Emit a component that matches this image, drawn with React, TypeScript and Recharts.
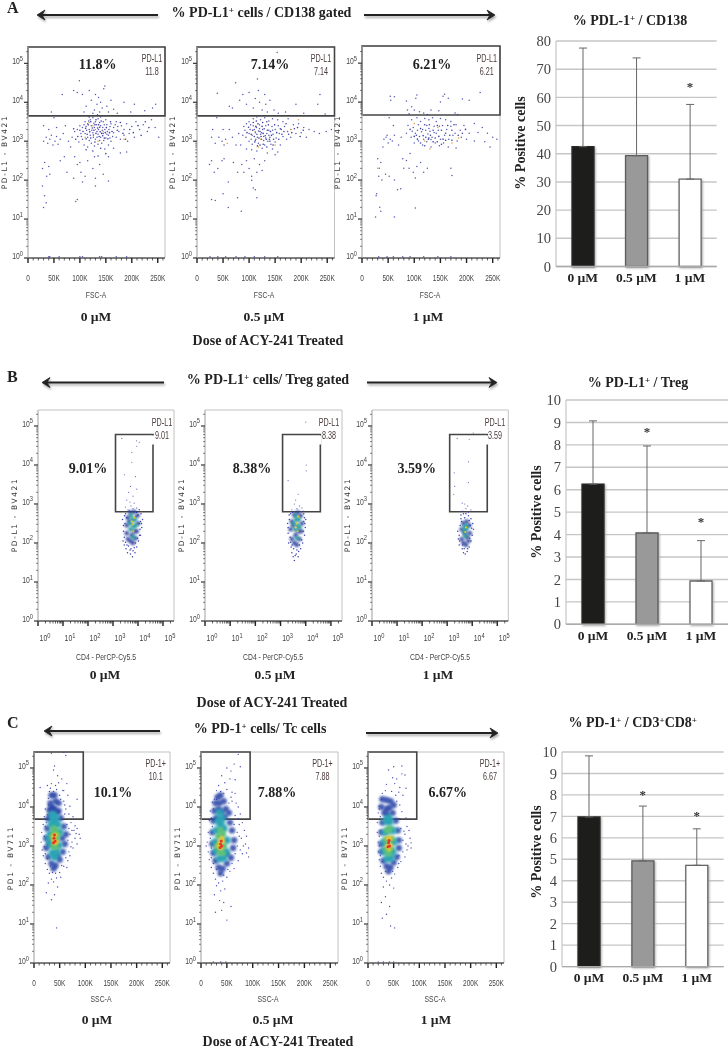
import React from "react";
import {
  ScatterChart, Scatter, XAxis, YAxis, ReferenceArea, BarChart, Bar, Cell, ErrorBar,
  CartesianGrid, ReferenceDot,
} from "recharts";

type P = [number, number];

// ---------- Panel A: FSC-A (K) vs log10 PD-L1 ----------
const a1Blue: P[] = [[45,3.75],[66,4.2],[88,4.3],[95,4.25],[99,4.55],[105,4.2],[112,3.9],[118,4.3],[122,4.05],[128,3.8],[130,4.2],[133,3.95],[136,4.12],[138,3.75],[140,4.0],[143,3.85],[146,4.35],[148,4.42],[152,3.9],[155,3.75],[160,4.05],[165,3.82],[172,3.72],[185,4.0],[198,3.75],[205,3.95],[225,3.78],[240,3.85],[246,3.95],[108,3.75],[125,3.72],[134,3.68],
[120,3.55],[125,3.6],[130,3.5],[135,3.58],[140,3.62],[145,3.5],[150,3.55],[115,3.45],[110,3.5],[105,3.35],[100,3.4],[95,3.3],[90,3.25],[85,3.1],[118,3.3],[122,3.4],[128,3.35],[132,3.42],[136,3.3],[140,3.4],[144,3.35],[148,3.3],[152,3.42],[156,3.3],[160,3.45],[165,3.35],[170,3.5],[175,3.25],[180,3.4],[185,3.3],[190,3.45],[195,3.2],[200,3.38],[208,3.5],[215,3.3],[222,3.42],[230,3.25],[238,3.55],[245,3.35],[252,3.1],[110,3.2],[115,3.1],[120,3.15],[125,3.22],[130,3.05],[135,3.18],[140,3.1],[145,3.2],[150,3.08],[155,3.15],[160,3.0],[165,3.22],[170,3.1],[178,3.05],[185,3.15],[192,3.0],[205,3.1],[105,3.05],[98,2.98],[102,3.2],[108,2.9],[115,2.85],[122,2.95],[128,2.88],[135,2.92],[142,2.95],[148,2.8],[155,2.9],[165,2.82],[178,2.7],[190,2.72],
[112,3.38],[117,3.52],[123,3.28],[127,3.46],[133,3.25],[138,3.48],[143,3.28],[147,3.42],[153,3.25],[158,3.38],[163,3.12],[168,3.42],[173,3.38],[113,3.28],[108,3.42],[103,3.12],[118,3.02],[126,3.1],[133,3.1],[138,3.02],[146,3.02],[152,3.18],[158,3.08],
[30,3.0],[35,3.1],[38,2.95],[42,3.05],[45,3.15],[48,2.9],[52,3.0],[55,3.12],[58,2.92],[62,3.05],[40,3.3],[55,3.35],[68,3.2],[72,3.4],[78,3.0],[82,2.85],[30,3.4],[50,3.6],
[28,2.3],[32,2.45],[40,2.35],[28,1.85],[32,1.6],[35,1.42],[30,1.3],[36,2.1],[42,2.15],[90,2.6],[95,2.4],[100,2.45],[102,2.2],[88,2.05],[105,1.95],[92,1.45],[95,1.5],[110,2.1],[115,2.5],[125,2.3],[130,2.05],[130,1.85],[138,2.4],[145,2.15],[155,1.98],[155,2.6],[128,2.6],[75,2.2],[62,2.5],[70,2.6],
[40,0.03],[42,0.03],[60,0.03],[100,0.03],[105,0.03],[138,0.03],[142,0.03],[170,0.03],[190,0.03]];
const a1Dense: P[] = [[106,3.25],[111,3.33],[114,3.18],[116,3.42],[119,3.24],[121,3.5],[124,3.34],[126,3.16],[129,3.42],[131,3.2],[134,3.34],[137,3.12],[139,3.24],[141,3.52],[144,3.14],[147,3.08],[149,3.22],[151,3.35],[154,3.06],[157,3.22],[159,3.5],[162,3.25],[118,3.62],[127,3.28],[131,3.55],[136,3.42],[142,3.2],[112,3.06],[121,3.08],[129,2.98],[138,3.36],[100,3.28],[96,3.12],[92,3.05],[88,3.32],[172,3.28],[178,3.48],[183,3.2],[188,3.05],[196,3.3],[203,3.22],[212,3.4],[218,3.15],[226,3.5],[233,3.35],[140,2.82],[125,2.75],[112,2.78],[150,2.68],[135,2.62]];
const a1Warm: P[] = [[110,3.1],[125,3.4],[135,3.0],[145,3.25],[185,3.05],[130,3.3],[118,3.48]];

const a2Blue: P[] = [[39,4.23],[62,3.9],[74,4.5],[68,3.85],[82,4.05],[88,4.2],[95,3.95],[100,4.25],[108,3.85],[112,4.1],[116,4.6],[118,4.3],[120,4.0],[125,3.8],[130,4.2],[132,3.95],[135,3.75],[140,4.05],[148,3.8],[154,5.28],[156,3.72],[170,3.75],[190,3.95],[205,3.72],[232,3.95],[236,4.2],[246,3.7],
[100,3.5],[108,3.58],[115,3.62],[122,3.55],[130,3.6],[138,3.52],[145,3.58],[155,3.55],[165,3.5],[175,3.58],[185,3.42],[195,3.45],[205,3.35],[215,3.3],[225,3.25],[235,3.2],[248,3.25],[258,3.3],[90,3.38],[95,3.45],[102,3.3],[108,3.4],[114,3.35],[120,3.42],[126,3.3],[132,3.4],[138,3.28],[144,3.38],[150,3.3],[156,3.4],[162,3.3],[168,3.38],[174,3.25],[180,3.3],[190,3.2],[200,3.22],[88,3.15],[94,3.1],[100,3.2],[106,3.15],[112,3.22],[116,3.1],[122,3.18],[128,3.12],[134,3.2],[140,3.1],[146,3.18],[152,3.08],[158,3.2],[165,3.12],[172,3.05],[180,3.1],[210,3.1],[100,3.0],[106,2.92],[112,3.02],[118,2.95],[124,3.05],[130,2.9],[136,3.0],[142,2.92],[150,2.98],[160,2.9],[84,2.9],[95,2.8],[105,2.78],[115,2.75],[125,2.82],[135,2.7],[145,2.8],[155,2.72],[92,3.28],[104,3.05],[110,3.3],[118,3.26],[124,3.22],[128,3.02],[132,3.08],[138,3.15],[145,3.28],[103,3.42],[113,3.05],[120,3.32],
[28,3.1],[35,2.95],[42,3.1],[48,3.0],[52,2.9],[55,3.05],[30,3.3],[50,3.3],[38,3.6],[62,3.3],[68,3.1],[75,2.9],[80,3.2],
[24,2.4],[28,2.5],[33,2.2],[40,2.3],[48,2.5],[52,2.55],[70,2.45],[78,2.2],[86,2.4],[90,2.2],[95,2.5],[100,2.3],[105,2.1],[110,2.55],[115,2.2],[120,2.4],[125,2.25],[130,2.5],[108,1.8],[112,1.75],[115,1.55],[105,2.0],[60,1.95],[50,1.65],[78,1.55],[60,1.3],[85,1.2],[28,1.5],[35,1.48],[150,2.65],
[25,0.03],[40,0.03],[55,0.03],[75,0.03],[92,0.03],[110,0.03],[130,0.03],[155,0.03]];
const a2Dense: P[] = [[96,3.22],[99,3.36],[104,3.18],[107,3.28],[110,3.12],[113,3.38],[115,3.18],[117,3.45],[119,3.08],[121,3.25],[123,3.12],[125,3.38],[127,3.2],[129,3.32],[131,3.14],[133,3.05],[135,3.28],[137,3.42],[139,3.05],[141,3.25],[143,3.15],[147,3.05],[149,3.42],[153,3.22],[157,3.05],[160,3.32],[163,3.18],[167,3.25],[171,3.45],[176,3.18],[182,3.22],[187,3.32],[193,3.35],[198,3.12],[204,3.28],[111,2.98],[116,2.88],[121,2.9],[127,2.92],[134,2.85],[140,3.0],[146,2.9],[108,3.48],[114,3.52],[126,3.48],[134,3.5]];
const a2Warm: P[] = [[112,3.25],[122,3.05],[58,2.95],[180,3.3],[118,2.85],[150,2.9],[195,3.55]];

const a3Blue: P[] = [[54,4.15],[55,4.05],[62,4.14],[85,4.03],[87,3.8],[90,3.7],[95,3.88],[100,3.8],[105,4.18],[103,4.1],[110,3.75],[118,3.72],[125,3.68],[132,3.8],[147,3.78],[150,4.0],[155,4.15],[158,4.2],[165,4.1],[178,3.72],[183,3.68],[192,4.08],[205,4.05],[226,4.25],
[95,3.55],[105,3.6],[112,3.5],[120,3.58],[128,3.55],[135,3.6],[142,3.5],[150,3.58],[160,3.55],[170,3.5],[180,3.42],[195,3.4],[215,3.45],[230,3.35],[240,3.2],[88,3.4],[98,3.35],[108,3.42],[116,3.3],[124,3.4],[130,3.25],[138,3.38],[146,3.28],[154,3.4],[162,3.3],[170,3.38],[178,3.2],[188,3.28],[205,3.2],[222,3.22],[250,3.1],[258,3.05],[85,3.2],[94,3.1],[102,3.2],[110,3.12],[118,3.05],[126,3.18],[134,3.1],[142,3.2],[150,3.05],[158,3.15],[166,3.05],[174,3.15],[182,3.0],[190,3.1],[200,3.05],[215,3.0],[235,2.98],[245,2.85],[100,2.95],[108,3.0],[116,2.9],[124,2.98],[132,2.85],[140,2.95],[148,2.88],[156,2.95],[165,2.85],[180,2.82],[75,3.1],[114,3.24],[122,3.28],[132,3.04],[138,3.22],[128,3.32],[106,3.28],[96,3.25],[148,3.38],
[42,3.05],[46,3.1],[50,2.95],[54,3.05],[58,3.0],[62,3.15],[48,3.15],[40,2.85],[60,3.4],[52,3.6],[70,2.9],
[30,2.55],[33,2.3],[36,2.45],[32,2.1],[28,1.65],[27,1.6],[34,1.3],[36,1.2],[26,1.05],[62,1.05],[102,1.28],[45,2.15],[52,2.1],[38,2.0],[62,2.0],[68,1.75],[74,1.78],[80,2.3],[90,2.3],[98,2.2],[102,2.05],[105,2.35],[112,2.45],[118,2.2],[125,2.3],[170,2.3],[172,2.12],[85,2.5],[92,2.68],[78,2.55],
[32,0.03],[48,0.03],[60,0.03],[78,0.03],[92,0.03],[118,0.03],[145,0.03],[170,0.03]];
const a3Dense: P[] = [[104,3.15],[112,3.32],[117,3.14],[120,3.42],[122,3.1],[127,3.05],[129,3.42],[131,3.15],[136,3.28],[140,3.08],[144,3.4],[147,3.12],[152,3.28],[155,3.05],[160,3.2],[164,3.4],[168,3.15],[172,3.28],[176,3.42],[184,3.15],[192,3.2],[198,3.3],[112,2.95],[120,2.88],[128,3.08],[136,2.98],[144,2.98],[152,2.92],[160,3.02],[172,3.02],[106,3.05],[100,3.12],[92,3.3]];
const a3Warm: P[] = [[100,3.45],[120,3.0],[145,3.35],[185,3.08],[30,2.3],[130,2.8],[172,2.95]];

// ---------- Panel B: log10 CD4 vs log10 PD-L1 ----------
const b1Gate: P[] = [[3.35,4.68],[3.94,4.62],[4.05,4.58],[3.95,4.48],[3.75,4.32],[3.75,4.07],[3.46,3.75],[3.9,3.7],[3.7,3.45],[3.95,3.38],[3.62,3.3],[3.8,3.2],[3.55,3.1],[3.68,3.05],[3.85,3.02],[3.72,2.95],[3.95,2.9],[3.5,2.92],[3.6,2.85],[3.8,2.88]];
const b1Blue: P[] = [[3.38,2.6],[3.42,2.3],[3.4,2.05],[3.45,1.95],[3.5,2.75],[3.52,1.85],[3.58,1.75],[3.65,2.82],[3.7,1.72],[3.78,1.65],[3.88,1.75],[3.95,1.9],[4.02,2.05],[4.1,2.2],[4.15,2.4],[4.18,2.6],[4.12,2.75],[4.05,2.85],[3.48,2.5],[3.45,2.15],[3.55,2.65],[4.08,2.35],[4.1,2.55],[3.95,2.78],[3.62,1.92],[3.72,1.85],[3.85,1.88],[3.9,2.0],[4.05,2.5],[3.42,2.45],[3.46,2.7],[3.5,2.02],[3.56,1.95],[3.92,2.68],[4.0,2.72],[4.06,2.2],[4.14,2.5],[3.98,2.12],[3.68,1.82],[3.8,1.8]];
const b1Core: P[] = [[3.6,2.1],[3.7,2.05],[3.8,2.0],[3.9,2.12],[3.95,2.3],[4.0,2.5],[3.98,2.7],[3.85,2.8],[3.7,2.78],[3.6,2.65],[3.55,2.45],[3.55,2.25],[3.65,2.55],[3.75,2.2],[3.85,2.3]];
const b1Mid: P[] = [[3.7,2.35],[3.82,2.42],[3.78,2.6],[3.88,2.6],[3.68,2.5],[3.8,2.15],[3.72,2.7],[3.9,2.45]];
const b1Hot: P[] = [[3.8,2.48],[3.82,2.3],[3.75,2.55],[3.86,2.65]];

const b2Gate: P[] = [[4.0,5.1],[4.02,4.0],[4.02,3.85],[3.3,3.6],[3.7,3.25],[3.55,3.0],[3.75,2.95],[3.6,3.1],[3.45,2.85],[3.65,2.88],[3.85,2.9],[3.9,2.82]];
const b2Blue: P[] = [[3.28,2.5],[3.3,2.25],[3.32,2.0],[3.4,2.75],[3.42,1.9],[3.45,1.75],[3.5,1.65],[3.55,1.55],[3.62,1.72],[3.7,1.65],[3.8,1.85],[3.88,2.0],[3.95,2.2],[3.98,2.4],[4.0,2.6],[3.92,2.75],[3.85,2.8],[3.35,2.6],[3.38,2.15],[3.48,2.78],[3.6,2.8],[3.52,1.85],[3.65,1.82],[3.75,1.95],[3.9,2.3],[3.92,2.55],[3.3,2.4],[3.34,2.72],[3.4,2.02],[3.46,1.95],[3.58,1.68],[3.72,1.78],[3.84,2.08],[3.96,2.5],[3.95,2.65]];
const b2Core: P[] = [[3.45,2.1],[3.55,2.0],[3.65,1.95],[3.75,2.1],[3.82,2.3],[3.85,2.5],[3.8,2.7],[3.68,2.78],[3.55,2.72],[3.45,2.55],[3.4,2.35],[3.5,2.45],[3.6,2.2],[3.7,2.3]];
const b2Mid: P[] = [[3.58,2.35],[3.68,2.45],[3.62,2.6],[3.72,2.6],[3.52,2.5],[3.65,2.12],[3.6,2.7],[3.75,2.4]];
const b2Hot: P[] = [[3.65,2.5],[3.68,2.3],[3.6,2.4],[3.7,2.68]];

const b3Gate: P[] = [[3.4,4.68],[4.04,4.82],[3.88,4.66],[3.85,4.08],[3.28,3.8],[3.85,3.55],[3.3,3.45],[3.26,3.25],[3.6,3.02],[3.7,3.0],[3.82,2.95],[3.62,2.82],[3.85,2.78],[3.95,2.85],[3.75,2.88]];
const b3Blue: P[] = [[3.42,2.3],[3.45,2.1],[3.48,1.95],[3.52,2.45],[3.55,2.62],[3.6,1.85],[3.65,1.75],[3.72,1.72],[3.8,1.78],[3.88,1.9],[3.95,2.05],[4.0,2.2],[4.05,2.35],[4.02,2.5],[3.95,2.62],[3.85,2.7],[3.75,2.75],[3.65,2.75],[3.7,2.65],[3.48,2.2],[3.58,2.55],[3.92,2.45],[3.62,1.95],[3.9,2.12],[3.5,2.05],[3.68,1.85],[3.82,1.85],[3.98,2.38],[3.55,2.72],[3.88,2.58]];
const b3Core: P[] = [[3.58,2.1],[3.65,2.0],[3.75,1.95],[3.85,2.05],[3.9,2.25],[3.88,2.45],[3.78,2.55],[3.65,2.5],[3.58,2.35],[3.7,2.25],[3.8,2.15]];
const b3Mid: P[] = [[3.68,2.3],[3.75,2.35],[3.72,2.18],[3.78,2.42],[3.7,2.42]];
const b3Hot: P[] = [[3.72,2.28],[3.75,2.4]];

// ---------- Panel C: SSC-A (K) vs log10 PD-1 ----------
const c1Blue: P[] = [[34,5.38],[58,5.4],[62,5.32],[40,5.05],[38,4.95],[46,4.8],[54,4.72],[34,4.6],[26,4.55],[48,4.62],[64,4.6],[12,4.5],[30,4.4],[44,4.45],[56,4.42],[66,4.3],[84,4.2],[28,4.22],[50,4.3],[58,4.15],[70,4.02],[62,3.95],[22,3.95],[20,3.75],[68,3.82],[76,3.75],[18,3.55],[72,3.6],[80,3.52],[84,3.45],[15,3.35],[78,3.4],[88,3.3],[90,3.2],[14,3.1],[80,3.2],[84,3.05],[76,2.95],[16,2.9],[70,2.75],[18,2.75],[66,2.62],[22,2.55],[58,2.48],[26,2.4],[50,2.32],[54,2.5],[30,2.3],[44,2.18],[34,2.15],[38,2.08],[28,2.05],[46,1.95],[24,1.8],[40,1.75],[34,1.62],[44,0.9],[70,3.3],[74,3.1],[64,3.55],[60,3.82],[68,2.85],[62,2.7],[32,2.48],[26,2.68],[20,3.25],[22,3.5],[58,4.42],[42,4.55],[24,3.6],[26,3.05],[68,3.45],[72,2.98],[74,3.4],[82,3.32],[66,3.15],[20,2.98],[22,2.8],[64,2.45],[36,2.32],[42,2.3],[52,2.2],[28,4.05],[52,4.2],[60,4.05],[26,3.8],[32,4.48],[38,4.4]];
const c1Core: P[] = [[34,4.3],[40,4.3],[32,4.1],[42,4.15],[48,4.1],[30,3.92],[48,3.9],[28,3.7],[52,3.72],[26,3.45],[58,3.5],[62,3.3],[24,3.2],[60,3.05],[24,2.95],[56,2.85],[28,2.72],[50,2.65],[34,2.55],[42,2.5],[38,2.42],[30,3.05],[55,3.2],[36,3.95],[46,2.75],[34,4.0],[40,3.95],[32,3.78],[44,3.85]];
const c1Mid: P[] = [[36,3.8],[42,3.72],[34,3.55],[46,3.55],[32,3.3],[50,3.35],[32,3.05],[48,3.02],[36,2.82],[44,2.85],[40,3.6],[38,3.7],[40,2.72],[30,3.18]];
const c1Green: P[] = [[38,3.45],[42,3.4],[36,3.25],[44,3.18],[38,3.0],[42,2.98],[40,3.3],[46,3.3]];
const c1Warm: P[] = [[38,3.25],[42,3.28],[40,3.08],[44,3.1],[38,3.15]];
const c1Red: P[] = [[39,3.2],[41,3.12],[40,3.28],[38,3.08]];

const c2Blue: P[] = [[72,5.35],[64,5.1],[76,5.03],[50,5.0],[58,4.92],[40,4.8],[56,4.72],[46,4.62],[66,4.7],[34,4.55],[30,4.42],[50,4.45],[60,4.38],[66,4.35],[26,4.2],[22,4.12],[60,4.15],[68,4.1],[72,4.0],[18,3.9],[76,3.82],[66,3.78],[16,3.65],[80,3.6],[74,3.55],[14,3.35],[84,3.4],[88,3.25],[12,3.1],[10,3.0],[86,3.05],[92,2.95],[88,2.82],[14,2.85],[80,2.8],[92,2.72],[16,2.65],[72,2.62],[20,2.45],[64,2.42],[24,2.3],[56,2.35],[28,2.15],[50,2.2],[34,2.05],[42,2.1],[30,1.98],[46,1.9],[38,1.85],[26,1.75],[36,1.6],[44,1.55],[40,1.35],[28,1.3],[58,1.45],[50,1.1],[24,0.03],[38,0.03],[48,0.03],[78,3.2],[82,3.0],[70,3.0],[66,2.8],[18,3.2],[20,2.95],[60,2.55],[30,2.4],[28,2.6],[54,4.1],[58,4.25],[70,3.35],[74,3.25],[76,2.9],[72,3.7],[64,3.55],[22,3.5],[20,3.72],[24,3.95],[30,4.2],[44,4.35],[38,4.4],[20,2.7],[24,2.55],[52,2.4],[36,2.28],[44,2.25]];
const c2Core: P[] = [[32,4.25],[38,4.3],[28,4.1],[44,4.15],[26,3.9],[48,3.95],[54,3.85],[24,3.65],[56,3.6],[22,3.35],[60,3.4],[64,3.15],[22,3.05],[62,2.95],[24,2.82],[58,2.7],[28,2.62],[50,2.55],[34,2.45],[42,2.42],[38,2.3],[50,2.8],[34,3.95],[40,3.88],[30,3.72],[46,3.75],[36,4.1]];
const c2Mid: P[] = [[34,3.65],[40,3.7],[30,3.4],[44,3.45],[28,3.1],[50,3.15],[30,2.88],[48,2.85],[36,2.68],[44,2.7],[36,3.85],[38,3.55]];
const c2Green: P[] = [[34,3.25],[42,3.3],[32,3.0],[44,3.0],[36,2.85],[42,2.82],[38,3.4]];
const c2Warm: P[] = [[36,3.1],[42,3.12],[38,2.95],[40,3.2],[34,3.0]];
const c2Red: P[] = [[38,3.05],[40,3.0],[39,3.13],[37,2.96]];

const c3Blue: P[] = [[50,5.03],[66,5.05],[40,4.95],[66,4.85],[72,4.82],[48,4.75],[56,4.72],[36,4.58],[52,4.6],[62,4.5],[74,4.48],[34,4.42],[46,4.4],[60,4.38],[68,4.3],[26,4.2],[56,4.15],[62,4.05],[22,4.02],[20,3.85],[66,3.88],[74,3.72],[18,3.6],[62,3.7],[76,3.5],[70,3.38],[80,3.4],[18,3.35],[82,3.2],[84,3.08],[20,3.1],[84,2.95],[76,2.9],[20,2.85],[72,2.72],[22,2.65],[64,2.6],[24,2.48],[58,2.45],[26,2.3],[52,2.28],[30,2.2],[46,2.18],[36,2.1],[42,2.0],[30,1.95],[50,1.92],[34,1.7],[26,1.55],[42,1.45],[36,1.25],[28,1.15],[44,0.95],[52,0.9],[20,0.03],[30,0.03],[42,0.03],[50,0.03],[74,3.05],[64,3.45],[28,2.6],[60,2.75],[24,3.4],[22,3.25],[68,3.15],[72,3.3],[78,3.0],[68,2.85],[22,3.0],[24,2.75],[60,2.55],[34,2.35],[48,2.35],[24,3.75],[22,3.95],[28,4.35],[54,4.3]];
const c3Core: P[] = [[28,4.2],[36,4.18],[44,4.15],[26,4.0],[50,4.05],[32,3.85],[48,3.85],[28,3.6],[54,3.65],[26,3.35],[58,3.4],[60,3.15],[26,3.05],[60,2.95],[26,2.85],[56,2.72],[30,2.62],[50,2.58],[36,2.48],[44,2.45],[40,2.35],[36,3.95],[42,3.98],[38,3.8]];
const c3Mid: P[] = [[36,3.65],[42,3.62],[34,3.35],[48,3.4],[32,3.1],[50,3.1],[32,2.88],[48,2.85],[38,2.68],[44,2.7],[40,3.72]];
const c3Green: P[] = [[38,3.4],[42,3.45],[36,3.15],[46,3.18],[36,2.9],[44,2.92],[40,2.8]];
const c3Warm: P[] = [[38,3.2],[44,3.2],[38,3.0],[44,3.02],[41,2.92]];
const c3Red: P[] = [[40,3.08],[42,3.0],[39,2.98],[41,3.14]];

// ---------- Bars ----------
const doses = ["0 µM", "0.5 µM", "1 µM"];
const aMeans = [42.5, 39.3, 31];
const aUp = [35, 34.7, 26.5];
const bMeans = [6.25, 4.07, 1.93];
const bUp = [2.82, 3.88, 1.8];
const cMeans = [6.97, 4.93, 4.72];
const cUp = [2.85, 2.55, 1.7];
const aStars = [null, null, 64];
const bStars = [null, 8.6, 4.6];
const cStars = [null, 8.02, 7.05];
const barFills = ["#1d1d1b", "#999999", "#ffffff"];
const barStrokes = ["#2a2a2a", "#5c5c5c", "#666666"];

const linTicks = [0,10,20,30,40,50,60,70,80,90,100,110,120,130,140,150,160,170,180,190,200,210,220,230,240,250,260];
const logOff = [0.3,0.48,0.6,0.7,0.78,0.85,0.9,0.95];
const logTicks = [0,1,2,3,4,5].flatMap((d) => (d === 5 ? [5,5.3] : [d, ...logOff.map((o) => d + o)]));

const SANS = "'Liberation Sans',Arial,sans-serif";
const SERIF = "'Liberation Serif','Times New Roman',serif";
const DJ = "'DejaVu Sans',sans-serif";
const INK = "#444";

const pts = (a: P[]) => a.map(([x, y]) => ({ x, y }));
const dot = (r: number, fill: string, op = 1, blur = 0) => (p: any) => (
  <circle cx={p.cx} cy={p.cy} r={r} fill={fill} fillOpacity={op} style={blur ? { filter: `blur(${blur}px)` } : undefined} />
);

// horizontally condensed text, like the cytometer software's labels
const Narrow = ({ x, y, size = 7.5, anchor = "middle", children, fill = INK }: any) => (
  <text transform={`translate(${x},${y}) scale(0.72,1)`} textAnchor={anchor} fontSize={size} fontFamily={SANS} fill={fill}>
    {children}
  </text>
);

const XLin = (p: any) => {
  const v = p.payload.value;
  const major = v % 50 === 0;
  return (
    <g>
      <line x1={p.x} x2={p.x} y1={p.y} y2={p.y + (major ? 5 : 2.5)} stroke="#222" strokeWidth={major ? 1.4 : 0.7} />
      {major && <Narrow x={p.x} y={p.y + 23} size={9}>{v === 0 ? "0" : `${v}K`}</Narrow>}
    </g>
  );
};
const Pow = ({ x, y, n, anchor }: any) => (
  <Narrow x={x} y={y} anchor={anchor} size={9.5}>
    10<tspan dy={-3.5} fontSize={8}>{n}</tspan>
  </Narrow>
);
const XLog = (p: any) => {
  const v = p.payload.value;
  const major = Number.isInteger(v);
  return (
    <g>
      <line x1={p.x} x2={p.x} y1={p.y} y2={p.y + (major ? 5 : 2.5)} stroke="#222" strokeWidth={major ? 1.4 : 0.7} />
      {major && <Pow x={p.x + 7} y={p.y + 20} n={v} anchor="middle" />}
    </g>
  );
};
const YLog = (p: any) => {
  const v = p.payload.value;
  const major = Number.isInteger(v);
  return (
    <g>
      <line x1={p.x - (major ? 4 : 2)} x2={p.x} y1={p.y} y2={p.y} stroke="#333" strokeWidth={major ? 1.2 : 0.6} />
      {major && <Pow x={p.x - 5} y={p.y + 1} n={v} anchor="end" />}
    </g>
  );
};

type Layer = { d: P[]; r: number; c: string; o?: number; b?: number };
type Plot = {
  x: number; y: number; w: number; h: number;
  xMax: number; yMax: number; logX?: boolean;
  gate: [number, number, number, number];
  layers: Layer[];
};

const thin = "#4046ac";
const aLayers = (b: P[], dense: P[], w: P[]): Layer[] => [
  { d: b, r: 0.75, c: thin, o: 0.9 },
  { d: dense, r: 0.8, c: "#30369e", o: 0.95 },
  { d: w, r: 0.75, c: "#e09a3a" },
];
const bLayers = (g: P[], b: P[], core: P[], mid: P[], hot: P[]): Layer[] => [
  { d: g, r: 0.6, c: thin, o: 0.8 },
  { d: b, r: 0.75, c: "#3a40b0" },
  { d: core, r: 2.4, c: "#2c3f9c", o: 0.85, b: 1 },
  { d: mid, r: 2.3, c: "#2a9d9f", b: 1 },
  { d: hot, r: 1.1, c: "#e7c52e", b: 0.4 },
];
const cLayers = (b: P[], core: P[], mid: P[], green: P[], warm: P[], red: P[]): Layer[] => [
  { d: b, r: 0.7, c: "#3d44b4", o: 0.95 },
  { d: core, r: 3.2, c: "#2c46a8", o: 0.85, b: 1.3 },
  { d: mid, r: 4, c: "#2aa3b5", b: 1.5 },
  { d: green, r: 3.3, c: "#5cc07a", b: 1.3 },
  { d: warm, r: 2.4, c: "#e8c52c", b: 1 },
  { d: red, r: 1.5, c: "#e2382a", b: 0.5 },
];

const plots: Plot[] = [
  { x: 28, y: 47, w: 137, h: 211, xMax: 264, yMax: 5.42, gate: [0, 264, 3.65, 5.42], layers: aLayers(a1Blue, a1Dense, a1Warm) },
  { x: 196.5, y: 47, w: 137.5, h: 211, xMax: 264, yMax: 5.42, gate: [0, 264, 3.65, 5.42], layers: aLayers(a2Blue, a2Dense, a2Warm) },
  { x: 361.5, y: 46, w: 138, h: 212, xMax: 264, yMax: 5.44, gate: [0, 264, 3.67, 5.44], layers: aLayers(a3Blue, a3Dense, a3Warm) },
  { x: 38, y: 410, w: 136, h: 211, xMax: 5.44, yMax: 5.41, logX: true, gate: [3.1, 4.6, 2.8, 4.78], layers: bLayers(b1Gate, b1Blue, b1Core, b1Mid, b1Hot) },
  { x: 205, y: 410, w: 137, h: 211, xMax: 5.44, yMax: 5.41, logX: true, gate: [3.08, 4.58, 2.8, 4.78], layers: bLayers(b2Gate, b2Blue, b2Core, b2Mid, b2Hot) },
  { x: 371.7, y: 410, w: 136.3, h: 211, xMax: 5.44, yMax: 5.41, logX: true, gate: [3.1, 4.6, 2.8, 4.78], layers: bLayers(b3Gate, b3Blue, b3Core, b3Mid, b3Hot) },
  { x: 34, y: 752, w: 136, h: 211, xMax: 265, yMax: 5.41, gate: [0, 96, 3.69, 5.41], layers: cLayers(c1Blue, c1Core, c1Mid, c1Green, c1Warm, c1Red) },
  { x: 201, y: 752, w: 137, h: 211, xMax: 265, yMax: 5.41, gate: [0, 95, 3.69, 5.41], layers: cLayers(c2Blue, c2Core, c2Mid, c2Green, c2Warm, c2Red) },
  { x: 368.3, y: 752, w: 136, h: 211, xMax: 265, yMax: 5.41, gate: [0, 95, 3.69, 5.41], layers: cLayers(c3Blue, c3Core, c3Mid, c3Green, c3Warm, c3Red) },
];

const FlowPlot = ({ p }: { p: Plot }) => {
  const L = 28, T = 6, R = 6, B = 34;
  return (
    <div style={{ position: "absolute", left: p.x - L, top: p.y - T }}>
      <ScatterChart width={p.w + L + R} height={p.h + T + B} margin={{ top: T, right: R, left: 0, bottom: 0 }}>
        <XAxis
          type="number" dataKey="x" domain={[0, p.xMax]} allowDataOverflow
          ticks={p.logX ? logTicks : linTicks} interval={0} height={B} tickSize={0} tickMargin={0}
          tick={p.logX ? XLog : XLin} tickLine={false} axisLine={{ stroke: "#222", strokeWidth: 1.2 }}
        />
        <YAxis
          type="number" dataKey="y" domain={[0, p.yMax]} allowDataOverflow
          ticks={logTicks} interval={0} width={L} tickSize={0} tickMargin={0}
          tick={YLog} tickLine={false} axisLine={{ stroke: "#bbb" }}
        />
        <ReferenceArea x1={0} x2={p.xMax} y1={0} y2={p.yMax} fill="none" stroke="#c2c2c2" strokeWidth={1} ifOverflow="visible" />
        {p.layers.map((l, i) => (
          <Scatter key={i} data={pts(l.d)} isAnimationActive={false} shape={dot(l.r, l.c, l.o ?? 1, l.b ?? 0)} />
        ))}
        <ReferenceArea x1={p.gate[0]} x2={p.gate[1]} y1={p.gate[2]} y2={p.gate[3]} fill="none" stroke="#454545" strokeWidth={1.6} ifOverflow="visible" />
      </ScatterChart>
    </div>
  );
};

const StarDot = (props: any) => {
  const { viewBox } = props;
  return (
    <text x={viewBox.x} y={viewBox.y + 5} textAnchor="middle" fontSize={13} fontFamily={SERIF} fontWeight="bold" fill="#333">*</text>
  );
};

type BC = { x: number; y: number; w: number; h: number; max: number; step: number; means: number[]; up: number[]; stars: (number | null)[] };
const barCharts: BC[] = [
  { x: 556, y: 40.7, w: 160.7, h: 225.5, max: 80, step: 10, means: aMeans, up: aUp, stars: aStars },
  { x: 565.6, y: 400, w: 162, h: 224.3, max: 10, step: 1, means: bMeans, up: bUp, stars: bStars },
  { x: 562.3, y: 751.7, w: 161.7, h: 214.6, max: 10, step: 1, means: cMeans, up: cUp, stars: cStars },
];

const BarPanel = ({ b }: { b: BC }) => {
  const L = 40, T = 12, B = 26;
  const data = doses.map((dose, i) => ({ dose, mean: b.means[i], err: [0, b.up[i]] }));
  const ticks: number[] = [];
  for (let v = 0; v <= b.max; v += b.step) ticks.push(v);
  return (
    <div style={{ position: "absolute", left: b.x - L, top: b.y - T }}>
      <BarChart width={b.w + L} height={b.h + T + B} data={data} margin={{ top: T, right: 0, left: 0, bottom: 0 }} barCategoryGap={0}>
        <CartesianGrid vertical={false} stroke="#c6c6c6" strokeWidth={1.4} />
        <XAxis dataKey="dose" interval={0} height={B} tickLine={false} tickSize={0} axisLine={{ stroke: "#aaa", strokeWidth: 1.4 }} tickMargin={6}
          tick={{ fontSize: 13.5, fontWeight: "bold", fontFamily: SERIF, fill: "#222" }} />
        <YAxis type="number" domain={[0, b.max]} ticks={ticks} interval={0} width={L} tickLine={false} tickSize={0} axisLine={{ stroke: "#bbb" }} tickMargin={5}
          tick={{ fontSize: 14.5, fontFamily: SERIF, fill: "#444" }} />
        <Bar dataKey="mean" barSize={22} isAnimationActive={false} strokeWidth={1.3} style={{ filter: "drop-shadow(1.5px 1px 1px #aaa)" }}>
          {data.map((_, i) => <Cell key={i} fill={barFills[i]} stroke={barStrokes[i]} />)}
          <ErrorBar dataKey="err" direction="y" width={4} stroke="#666" strokeWidth={1} isAnimationActive={false} />
        </Bar>
        {b.stars.map((s, i) => s === null ? null : (
          <ReferenceDot key={i} x={doses[i]} y={s} r={0} fill="none" stroke="none" label={<StarDot />} ifOverflow="visible" />
        ))}
      </BarChart>
    </div>
  );
};

const Sup = ({ x, y, size, anchor = "middle", before, sup, after, weight = "bold" }: any) => (
  <text x={x} y={y} fontSize={size} fontFamily={SERIF} fontWeight={weight} textAnchor={anchor} fill="#222">
    {before}
    <tspan dy={-4} fontSize={size * 0.65}>{sup}</tspan>
    <tspan dy={4}>{after}</tspan>
  </text>
);

const Arrow = ({ from, to, y }: { from: number; to: number; y: number }) => {
  const s = to > from ? 1 : -1;
  return (
    <g style={{ filter: "drop-shadow(1px 2px 1px #aaa)" }}>
      <line x1={from} x2={to - s * 4} y1={y} y2={y} stroke="#222" strokeWidth={2} />
      <path d={`M${to},${y} L${to - s * 8},${y - 5} L${to - s * 5},${y} L${to - s * 8},${y + 5} Z`} fill="#222" stroke="#222" strokeWidth={0.8} />
    </g>
  );
};

const pctLabels = [
  ["11.8%", 97.7, 69], ["7.14%", 270, 69], ["6.21%", 432, 69],
  ["9.01%", 88, 473], ["8.38%", 252, 473], ["3.59%", 416.7, 473],
  ["10.1%", 113, 797], ["7.88%", 277, 797], ["6.67%", 447.7, 797],
] as const;
const gateLabels = [
  ["PD-L1", "11.8", 152, 62], ["PD-L1", "7.14", 321, 62], ["PD-L1", "6.21", 486.7, 62],
  ["PD-L1", "9.01", 162, 426], ["PD-L1", "8.38", 329, 426], ["PD-L1", "3.59", 495, 426],
  ["PD-1+", "10.1", 155.7, 767], ["PD-1+", "7.88", 322.5, 767], ["PD-1+", "6.67", 490, 767],
] as const;
const xTitles = [
  ["FSC-A", 96, 298], ["FSC-A", 264, 298], ["FSC-A", 430, 298],
  ["CD4 - PerCP-Cy5.5", 106, 660], ["CD4 - PerCP-Cy5.5", 273, 660], ["CD4 - PerCP-Cy5.5", 440, 660],
  ["SSC-A", 101, 1002], ["SSC-A", 268, 1002], ["SSC-A", 435, 1002],
] as const;
const yTitles = [
  ["PD-L1 - BV421", 7, 152], ["PD-L1 - BV421", 175, 152], ["PD-L1 - BV421", 340, 152],
  ["PD-L1 - BV421", 17, 515], ["PD-L1 - BV421", 184, 515], ["PD-L1 - BV421", 350, 515],
  ["PD1 - BV711", 13, 858], ["PD1 - BV711", 180, 858], ["PD1 - BV711", 347, 858],
] as const;
const doseLabels = [
  ["0 µM", 96, 321], ["0.5 µM", 264, 321], ["1 µM", 428, 321],
  ["0 µM", 105, 679], ["0.5 µM", 275, 679], ["1 µM", 438, 679],
  ["0 µM", 97, 1024], ["0.5 µM", 273, 1024], ["1 µM", 436, 1024],
] as const;
const doseTitles = [[268, 345], [272, 707], [278, 1046]] as const;
const gateGaps = [[151.6, 435.5], [318.2, 435.5], [485.3, 435.5]] as const;
const yBarTitles = [[525, 143], [540.7, 512], [540.7, 852]] as const;

export default function App() {
  return (
    <div style={{ position: "absolute", left: 0, top: 0, width: 728, height: 1050, background: "#fff", overflow: "hidden", filter: "blur(0.35px)" }}>
      {plots.map((p, i) => <FlowPlot key={i} p={p} />)}
      {barCharts.map((b, i) => <BarPanel key={i} b={b} />)}
      <svg width={728} height={1050} style={{ position: "absolute", left: 0, top: 0, pointerEvents: "none" }}>
        {gateGaps.map(([x, y], i) => <rect key={i} x={x} y={y} width={3} height={9} fill="#fff" />)}
        <text x={7} y={13} fontSize={16} fontWeight="bold" fontFamily={SERIF} fill="#222">A</text>
        <text x={7} y={382} fontSize={16} fontWeight="bold" fontFamily={SERIF} fill="#222">B</text>
        <text x={7} y={728} fontSize={16} fontWeight="bold" fontFamily={SERIF} fill="#222">C</text>
        <Arrow from={158} to={37} y={15} />
        <Arrow from={364} to={495} y={15} />
        <Arrow from={164} to={42} y={382.5} />
        <Arrow from={367} to={497} y={382.5} />
        <Arrow from={160} to={44} y={731} />
        <Arrow from={366} to={498} y={733} />
        <Sup x={261.5} y={17} size={14} before="% PD-L1" sup="+" after=" cells / CD138 gated" />
        <Sup x={268} y={384} size={14} before="% PD-L1" sup="+" after=" cells/ Treg gated" />
        <Sup x={260} y={733} size={14} before="% PD-1" sup="+" after=" cells/ Tc cells" />
        <Sup x={630} y={25} size={14} before="% PDL-1" sup="+" after=" / CD138" />
        <Sup x={638} y={387} size={14} before="% PD-L1" sup="+" after=" / Treg" />
        <text x={632.7} y={727} fontSize={14} fontFamily={SERIF} fontWeight="bold" textAnchor="middle" fill="#222">
          % PD-1<tspan dy={-4} fontSize={9}>+</tspan><tspan dy={4}> / CD3</tspan><tspan dy={-4} fontSize={9}>+</tspan><tspan dy={4}>CD8</tspan><tspan dy={-4} fontSize={9}>+</tspan>
        </text>
        {yBarTitles.map(([x, y], i) => (
          <text key={i} transform={`translate(${x},${y}) rotate(-90)`} textAnchor="middle" fontSize={14} fontWeight="bold" fontFamily={SERIF} fill="#222">% Positive cells</text>
        ))}
        {pctLabels.map(([t, x, y], i) => (
          <text key={i} x={x} y={y} textAnchor="middle" fontSize={14} fontWeight="bold" fontFamily={SERIF} fill="#222">{t}</text>
        ))}
        {gateLabels.map(([a, b, x, y], i) => (
          <g key={i}>
            <Narrow x={x} y={y} size={10} fill="#4a3a3a">{a}</Narrow>
            <Narrow x={x} y={y + 13} size={10} fill="#4a3a3a">{b}</Narrow>
          </g>
        ))}
        {xTitles.map(([t, x, y], i) => (
          <Narrow key={i} x={x} y={y} size={9.5}>{t}</Narrow>
        ))}
        {yTitles.map(([t, x, y], i) => (
          <text key={i} transform={`translate(${x},${y}) rotate(-90)`} textAnchor="middle" fontSize={7.5} letterSpacing={1.6} fontFamily={DJ} fill="#333">{t}</text>
        ))}
        {doseLabels.map(([t, x, y], i) => (
          <text key={i} x={x} y={y} textAnchor="middle" fontSize={13.5} fontWeight="bold" fontFamily={SERIF} fill="#222">{t}</text>
        ))}
        {doseTitles.map(([x, y], i) => (
          <text key={i} x={x} y={y} textAnchor="middle" fontSize={14} fontWeight="bold" fontFamily={SERIF} fill="#222">Dose of ACY-241 Treated</text>
        ))}
      </svg>
    </div>
  );
}
